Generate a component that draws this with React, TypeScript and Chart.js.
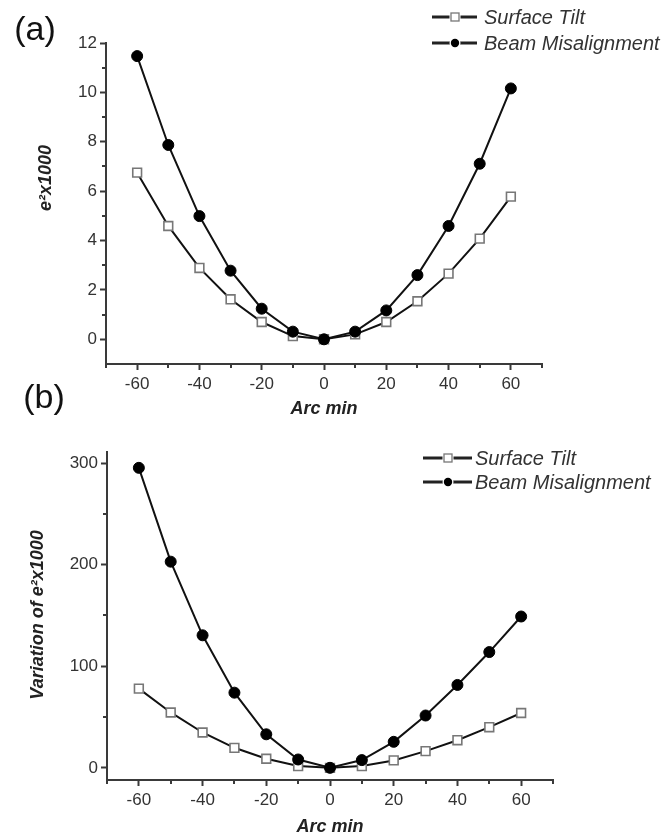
import React, { useEffect, useRef } from "react";
import { Chart, registerables } from "chart.js";
Chart.register(...registerables);

const arcMin = [-60, -50, -40, -30, -20, -10, 0, 10, 20, 30, 40, 50, 60];
const aSurfaceTilt = [6.75, 4.59, 2.89, 1.62, 0.7, 0.13, 0, 0.2, 0.7, 1.54, 2.66, 4.08, 5.78];
const aBeamMisalignment = [11.47, 7.87, 4.99, 2.78, 1.24, 0.31, 0, 0.31, 1.17, 2.6, 4.59, 7.11, 10.16];
const bSurfaceTilt = [78, 54.5, 34.8, 19.7, 8.9, 1.7, 0, 1.7, 7.3, 16.4, 27.2, 40, 54];
const bBeamMisalignment = [295.4, 203, 130.5, 74, 33, 8.2, 0, 7.6, 25.6, 51.5, 81.6, 114, 149];
const xMajorTicks = [-60, -40, -20, 0, 20, 40, 60];
const xMinorTicks = [-70, -50, -30, -10, 10, 30, 50, 70];
const aYMajorTicks = [0, 2, 4, 6, 8, 10, 12];
const aYMinorTicks = [1, 3, 5, 7, 9, 11];
const bYMajorTicks = [0, 100, 200, 300];
const bYMinorTicks = [50, 150, 250];
const seriesNames = ["Surface Tilt", "Beam Misalignment"];
const xTitle = "Arc min";
const aYTitle = "e\u00B2x1000";
const bYTitle = "Variation of e\u00B2x1000";

const FONT = "'Liberation Sans', Arial, sans-serif";
const AXIS = "#3a3a3a";
const TEXT = "#333";

type Panel = {
  tag: string;
  top: number;
  height: number;
  area: { left: number; right: number; top: number; bottom: number };
  yMin: number;
  yMax: number;
  yMajor: number[];
  yMinor: number[];
  surface: number[];
  beam: number[];
  yTitle: string;
  yTitlePos: { x: number; y: number };
  xTitleY: number;
  tagPos: { x: number; y: number };
  legend: { x0: number; x1: number; mx: number; tx: number; y1: number; y2: number };
};

const panels: Panel[] = [
  {
    tag: "(a)",
    top: 0,
    height: 425,
    area: { left: 106, right: 542, top: 43, bottom: 364 },
    yMin: -1,
    yMax: 12,
    yMajor: aYMajorTicks,
    yMinor: aYMinorTicks,
    surface: aSurfaceTilt,
    beam: aBeamMisalignment,
    yTitle: aYTitle,
    yTitlePos: { x: 46, y: 178 },
    xTitleY: 409,
    tagPos: { x: 35, y: 31 },
    legend: { x0: 432, x1: 477, mx: 455, tx: 484, y1: 17, y2: 43 },
  },
  {
    tag: "(b)",
    top: 380,
    height: 458,
    area: { left: 107, right: 553, top: 72, bottom: 400 },
    yMin: -12,
    yMax: 311,
    yMajor: bYMajorTicks,
    yMinor: bYMinorTicks,
    surface: bSurfaceTilt,
    beam: bBeamMisalignment,
    yTitle: bYTitle,
    yTitlePos: { x: 38, y: 235 },
    xTitleY: 447,
    tagPos: { x: 44, y: 19 },
    legend: { x0: 423, x1: 472, mx: 448, tx: 475, y1: 78, y2: 102 },
  },
];

function PanelChart({ p }: { p: Panel }) {
  const ref = useRef<HTMLCanvasElement | null>(null);
  useEffect(() => {
    if (!ref.current) return;
    const decor = {
      id: "decor",
      afterDraw(chart: any) {
        const ctx = chart.ctx as CanvasRenderingContext2D;
        const xs = chart.scales.x;
        const ys = chart.scales.y;
        const ca = chart.chartArea;
        ctx.save();
        // minor ticks
        ctx.strokeStyle = AXIS;
        ctx.lineWidth = 2;
        ctx.beginPath();
        xMinorTicks.forEach((v) => {
          const px = Math.round(xs.getPixelForValue(v));
          ctx.moveTo(px, ca.bottom + 1);
          ctx.lineTo(px, ca.bottom + 4);
        });
        p.yMinor.forEach((v) => {
          const py = Math.round(ys.getPixelForValue(v));
          ctx.moveTo(ca.left - 1, py);
          ctx.lineTo(ca.left - 4, py);
        });
        ctx.stroke();
        // axis titles
        ctx.fillStyle = "#222";
        ctx.textAlign = "center";
        ctx.textBaseline = "middle";
        ctx.font = `italic bold 18px ${FONT}`;
        ctx.fillText(xTitle, (ca.left + ca.right) / 2, p.xTitleY);
        ctx.save();
        ctx.translate(p.yTitlePos.x, p.yTitlePos.y);
        ctx.rotate(-Math.PI / 2);
        ctx.fillText(p.yTitle, 0, 0);
        ctx.restore();
        // panel tag
        ctx.fillStyle = "#111";
        ctx.font = `34px ${FONT}`;
        ctx.fillText(p.tag, p.tagPos.x, p.tagPos.y);
        // legend
        const L = p.legend;
        const rows = [L.y1, L.y2];
        chart.data.datasets.forEach((ds: any, i: number) => {
          const y = rows[i];
          ctx.strokeStyle = "#222";
          ctx.lineWidth = 3;
          ctx.beginPath();
          ctx.moveTo(L.x0, y);
          ctx.lineTo(L.x1, y);
          ctx.stroke();
          if (ds.pointStyle === "rect") {
            ctx.fillStyle = "#fff";
            ctx.fillRect(L.mx - 5.5, y - 5.5, 11, 11);
            ctx.strokeStyle = "#777";
            ctx.lineWidth = 1.3;
            ctx.strokeRect(L.mx - 4, y - 4, 8, 8);
          } else {
            ctx.fillStyle = "#fff";
            ctx.beginPath();
            ctx.arc(L.mx, y, 5.5, 0, Math.PI * 2);
            ctx.fill();
            ctx.fillStyle = "#000";
            ctx.beginPath();
            ctx.arc(L.mx, y, 4.2, 0, Math.PI * 2);
            ctx.fill();
          }
          ctx.fillStyle = "#333";
          ctx.textAlign = "left";
          ctx.font = `italic 20px ${FONT}`;
          ctx.fillText(ds.label, L.tx, y + 1);
        });
        ctx.restore();
      },
    };
    const w = 665;
    const chart = new Chart(ref.current, {
      type: "line",
      data: {
        datasets: [
          {
            label: seriesNames[0],
            data: arcMin.map((x, i) => ({ x, y: p.surface[i] })),
            borderColor: "#111",
            borderWidth: 2,
            pointStyle: "rect",
            pointRadius: 6.2,
            pointBackgroundColor: "#fff",
            pointBorderColor: "#777",
            pointBorderWidth: 1.6,
            tension: 0,
            clip: false,
            order: 1,
          },
          {
            label: seriesNames[1],
            data: arcMin.map((x, i) => ({ x, y: p.beam[i] })),
            borderColor: "#111",
            borderWidth: 2,
            pointStyle: "circle",
            pointRadius: 5.5,
            pointBackgroundColor: "#000",
            pointBorderColor: "#000",
            pointBorderWidth: 1,
            tension: 0,
            clip: false,
            order: 0,
          },
        ],
      } as any,
      options: {
        responsive: false,
        animation: false,
        events: [],
        layout: {
          padding: {
            left: 0,
            top: p.area.top,
            right: w - p.area.right,
            bottom: p.height - p.area.bottom - 30,
          },
        },
        plugins: { legend: { display: false }, tooltip: { enabled: false } },
        scales: {
          x: {
            type: "linear",
            min: -70,
            max: 70,
            afterBuildTicks: (s: any) => {
              s.ticks = xMajorTicks.map((value) => ({ value }));
            },
            afterFit: (s: any) => {
              s.height = 30;
            },
            ticks: {
              autoSkip: false,
              maxRotation: 0,
              padding: 4,
              color: TEXT,
              font: { family: FONT, size: 17 },
              callback: (v: any) => String(v),
            },
            grid: {
              display: true,
              drawOnChartArea: false,
              drawTicks: true,
              tickLength: 6,
              tickWidth: 2,
              tickColor: AXIS,
            },
            border: { display: true, color: AXIS, width: 2 },
          },
          y: {
            type: "linear",
            min: p.yMin,
            max: p.yMax,
            afterBuildTicks: (s: any) => {
              s.ticks = p.yMajor.map((value) => ({ value }));
            },
            afterFit: (s: any) => {
              s.width = p.area.left;
            },
            ticks: {
              autoSkip: false,
              padding: 3,
              color: TEXT,
              font: { family: FONT, size: 17 },
              callback: (v: any) => String(v),
            },
            grid: {
              display: true,
              drawOnChartArea: false,
              drawTicks: true,
              tickLength: 6,
              tickWidth: 2,
              tickColor: AXIS,
            },
            border: { display: true, color: AXIS, width: 2 },
          },
        },
      } as any,
      plugins: [decor],
    });
    return () => chart.destroy();
  }, [p]);
  return (
    <canvas
      ref={ref}
      width={665}
      height={p.height}
      style={{ position: "absolute", left: 0, top: p.top, width: 665, height: p.height }}
    />
  );
}

export default function App() {
  useEffect(() => {
    document.body.style.margin = "0";
    document.body.style.background = "#fff";
  }, []);
  return (
    <div style={{ position: "relative", width: 665, height: 838, background: "#fff", overflow: "hidden" }}>
      {panels.map((p) => (
        <PanelChart key={p.tag} p={p} />
      ))}
    </div>
  );
}
